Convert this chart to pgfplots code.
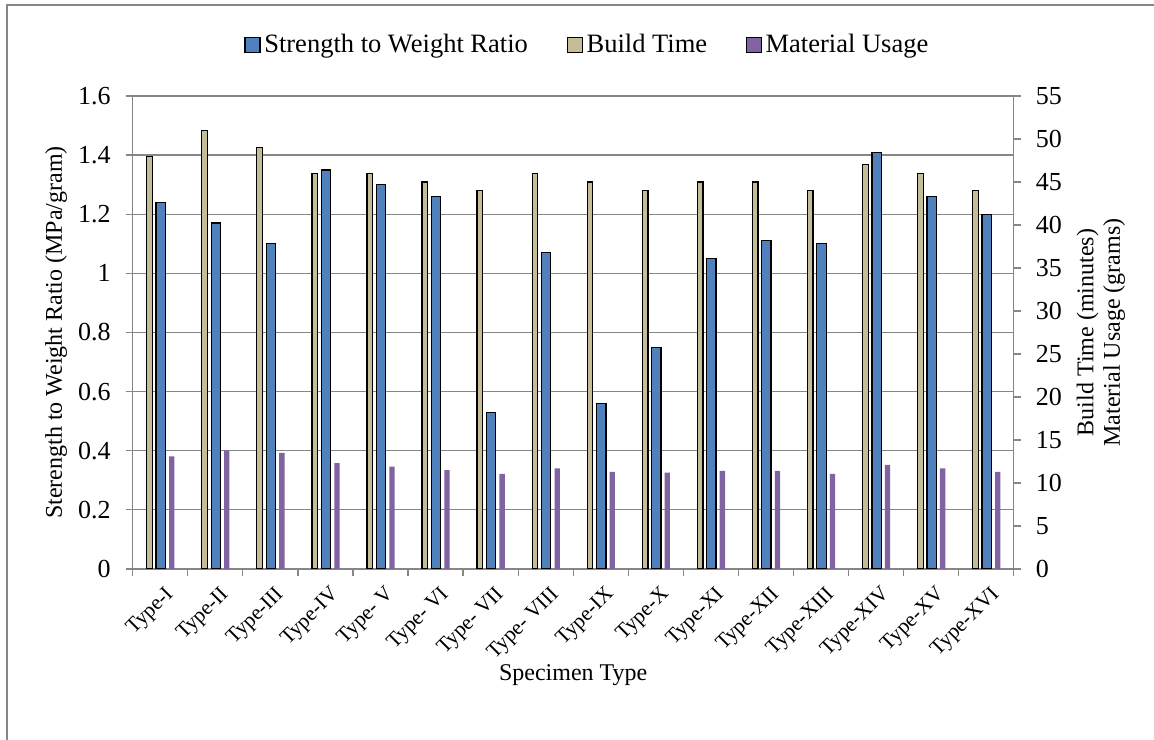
\documentclass[border=0pt]{standalone}
\usepackage{fontspec}
\setmainfont{Liberation Serif}
\usepackage{pgfplots}
\usepackage{pgfplotstable}
\pgfplotsset{compat=1.18}
\definecolor{sblue}{RGB}{79,129,189}
\definecolor{stan}{RGB}{196,189,151}
\definecolor{spurple}{RGB}{128,100,162}
\definecolor{axgray}{RGB}{134,134,134}

\pgfplotstableread{
x sw bt mu
0 1.24 48 13.1
1 1.17 51 13.8
2 1.10 49 13.5
3 1.35 46 12.3
4 1.30 46 11.9
5 1.26 45 11.5
6 0.53 44 11.05
7 1.07 46 11.7
8 0.56 45 11.3
9 0.75 44 11.2
10 1.05 45 11.4
11 1.11 45 11.4
12 1.10 44 11.05
13 1.41 47 12.1
14 1.26 46 11.7
15 1.20 44 11.3
}\datatable

\pgfplotsset{
  sq legend/.style={legend image code/.code={\draw[##1] (0pt,-3pt) rectangle (6pt,3pt);}},
  common/.style={
    at={(53.08pt,68.4pt)}, anchor=south west, scale only axis,
    width=352.4pt, height=189.2pt,
    xmin=-0.5, xmax=15.5,
    tick align=outside, major tick length=2.8pt,
    tick style={axgray, line width=0.5pt},
    axis line style={axgray, line width=0.5pt},
    ticklabel style={font=\fontsize{10.4}{12}\selectfont},
    /pgf/number format/assume math mode=true,
    label style={font=\fontsize{9.6}{10.6}\selectfont},
  }
}

\begin{document}
\begin{tikzpicture}
\useasboundingbox (0,0) rectangle (461.6pt,296pt);
\draw[axgray, line width=0.5pt] (2.8pt,-2pt) -- (2.8pt,294pt) -- (470pt,294pt);

\begin{axis}[common,
  ymin=0, ymax=1.6,
  ytick={0,0.2,0.4,0.6,0.8,1,1.2,1.4,1.6},
  yticklabels={0,0.2,0.4,0.6,0.8,1,1.2,1.4,1.6},
  yticklabel style={xshift=-2.5pt},
  ymajorgrids, grid style={axgray, line width=0.5pt},
  ytick pos=left, xtick pos=bottom,
  xtick={-0.5,0.5,...,15.5}, xticklabels={},
  extra x ticks={0,1,2,3,4,5,6,7,8,9,10,11,12,13,14,15},
  extra x tick labels={Type-I,Type-II,Type-III,Type-IV,Type- V,Type- VI,Type- VII,Type- VIII,Type-IX,Type-X,Type-XI,Type-XII,Type-XIII,Type-XIV,Type-XV,Type-XVI},
  extra x tick style={major tick length=0pt, xticklabel style={font=\fontsize{8.5}{10}\selectfont, xshift=1.5pt, yshift=-5.5pt, rotate=45, anchor=north east, inner sep=0.5pt}},
  ylabel={Sterength to Weight Ratio (MPa/gram)},
  ylabel style={at={(axis description cs:-0.087,0.5)}, anchor=center},
  xlabel={Specimen Type},
  xlabel style={at={(axis description cs:0.5,-0.225)}, anchor=center},
]
\addplot[ybar, bar width=3.72pt, bar shift=0.2pt, fill=sblue, draw=black, line width=0.5pt] table[x=x,y=sw] {\datatable};
\end{axis}

\begin{axis}[common,
  ymin=0, ymax=55,
  ytick={0,5,10,15,20,25,30,35,40,45,50,55},
  hide x axis,
  axis y line*=right,
  yticklabel style={xshift=2.5pt},
  ylabel={Build Time (minutes)\\Material Usage (grams)},
  ylabel style={at={(axis description cs:1.099,0.5)}, anchor=center, align=center},
  legend style={at={(axis description cs:0.517,1.108)}, anchor=center, draw=none,
    legend columns=-1, font=\fontsize{10.6}{12}\selectfont,
    /tikz/every even column/.append style={column sep=14pt},
    nodes={inner sep=1.5pt}},
]
\addlegendimage{sq legend, fill=sblue, draw=black, line width=0.5pt}
\addlegendentry{Strength to Weight Ratio}
\addplot[ybar, bar width=2.24pt, bar shift=-4.28pt, fill=stan, draw=black, line width=0.5pt, sq legend] table[x=x,y=bt] {\datatable};
\addlegendentry{Build Time}
\addplot[ybar, bar width=2.12pt, bar shift=4.6pt, fill=spurple, draw=none, sq legend] table[x=x,y=mu] {\datatable};
\addlegendentry{Material Usage}
\end{axis}
\end{tikzpicture}
\end{document}
